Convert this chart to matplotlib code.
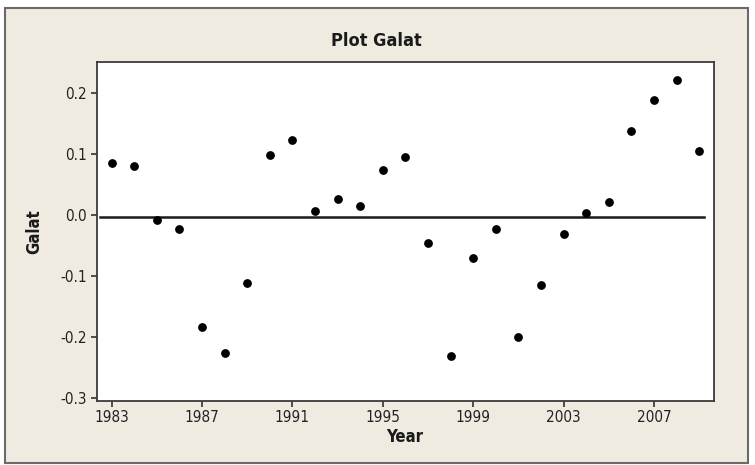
import matplotlib.pyplot as plt
from matplotlib.patches import Rectangle

# residuals (Galat) per year
years = list(range(1983, 2010))
galat = [0.085, 0.0795, -0.009, -0.0227, -0.184, -0.226, -0.112, 0.0987, 0.122,
         0.006, 0.0265, 0.015, 0.0735, 0.0948, -0.0456, -0.2315, -0.0713, -0.0227,
         -0.2003, -0.116, -0.032, 0.0025, 0.0205, 0.138, 0.188, 0.2216, 0.1046]
ref_line = -0.003
xticks = [1983, 1987, 1991, 1995, 1999, 2003, 2007]
yticks = [-0.3, -0.2, -0.1, 0.0, 0.1, 0.2]

bg = "#efebe1"
font = dict(family="DejaVu Sans", stretch="condensed")

fig = plt.figure(figsize=(7.55, 4.65), dpi=100)
fig.patch.set_facecolor("white")
# beige panel with grey frame, kept behind the axes
fig.patches.append(Rectangle((5 / 755, 1 - 463 / 465), 743 / 755, 455 / 465,
                             transform=fig.transFigure, facecolor=bg,
                             edgecolor="#6a6a6a", linewidth=1.5, zorder=-5))

ax = fig.add_axes([0.128, 0.1383, 0.8172, 0.7277])
ax.set_zorder(1)
ax.set_facecolor("white")
ax.scatter(years, galat, s=28, color="black", zorder=3)
ax.axhline(ref_line, xmin=0.005, xmax=0.984, color="#1a1a1a", linewidth=1.8, zorder=2)

ax.set_xlim(1982.34, 2009.64)
ax.set_ylim(-0.305, 0.25)
ax.set_xticks(xticks)
ax.set_xticklabels([str(t) for t in xticks], fontsize=11, color="#222222", **font)
ax.set_yticks(yticks)
ax.set_yticklabels([f"{t:.1f}" for t in yticks], fontsize=11, color="#222222", **font)
ax.tick_params(direction="out", length=4, width=1.2, color="#333333", pad=3)
for s in ax.spines.values():
    s.set_color("#3a3a3a")
    s.set_linewidth(1.3)

ax.set_xlabel("Year", fontsize=12, fontweight="bold", color="#1a1a1a", labelpad=2, **font)
ax.set_ylabel("Galat", fontsize=12, fontweight="bold", color="#1a1a1a", labelpad=12, **font)
fig.text(0.499, 1 - 41 / 465, "Plot Galat", ha="center", va="center", fontsize=13,
         fontweight="bold", color="#1a1a1a", **font)

plt.savefig("out.png", dpi=100, facecolor=fig.get_facecolor())
